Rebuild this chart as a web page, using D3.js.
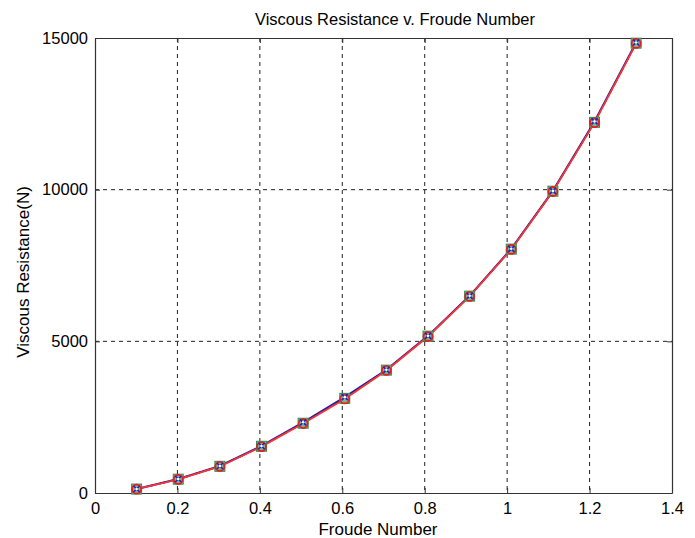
<!DOCTYPE html>
<html>
<head>
<meta charset="utf-8">
<script src="https://cdn.jsdelivr.net/npm/d3@7"></script>
<style>
  html, body { margin: 0; padding: 0; background: #fff; }
  svg text { font-family: "Liberation Sans", Arial, sans-serif; fill: #000; }
</style>
</head>
<body>
<svg id="chart" width="695" height="538"></svg>
<script>
// Froude numbers at each towing speed
const froude = [0.101, 0.202, 0.303, 0.404, 0.505, 0.606, 0.707, 0.808, 0.909, 1.010, 1.111, 1.212, 1.313];
// Viscous resistance (N) from three estimates
const resistanceA = [130, 460, 890, 1550, 2330, 3160, 4060, 5180, 6500, 8050, 9960, 12250, 14850];
const resistanceB = [130, 455, 880, 1540, 2300, 3120, 4050, 5170, 6490, 8040, 9950, 12220, 14830];
const resistanceC = [125, 450, 875, 1530, 2290, 3100, 4040, 5160, 6480, 8030, 9940, 12210, 14820];
const xTicks = [0, 0.2, 0.4, 0.6, 0.8, 1, 1.2, 1.4];
const yTicks = [0, 5000, 10000, 15000];

const svg = d3.select("#chart");
const m = { left: 95, right: 672, top: 38, bottom: 493 };

const x = d3.scaleLinear().domain([0, 1.4]).range([m.left, m.right]);
const y = d3.scaleLinear().domain([0, 15000]).range([m.bottom, m.top]);

// grid
const grid = svg.append("g").attr("stroke", "#222").attr("stroke-width", 1)
  .attr("stroke-dasharray", "4,4").attr("fill", "none");
xTicks.slice(1, -1).forEach(t => {
  grid.append("line").attr("x1", x(t)).attr("x2", x(t)).attr("y1", m.top).attr("y2", m.bottom);
});
yTicks.slice(1, -1).forEach(t => {
  grid.append("line").attr("x1", m.left).attr("x2", m.right).attr("y1", y(t)).attr("y2", y(t));
});

// axes
const xAxis = svg.append("g").attr("transform", `translate(0,${m.bottom})`)
  .call(d3.axisBottom(x).tickValues(xTicks).tickFormat(d3.format("~g")).tickSizeInner(-5).tickSizeOuter(0).tickPadding(9));
const yAxis = svg.append("g").attr("transform", `translate(${m.left},0)`)
  .call(d3.axisLeft(y).tickValues(yTicks).tickFormat(d3.format("d")).tickSizeInner(-5).tickSizeOuter(0).tickPadding(7));
const xTop = svg.append("g").attr("transform", `translate(0,${m.top})`)
  .call(d3.axisTop(x).tickValues(xTicks).tickFormat("").tickSizeInner(-5).tickSizeOuter(0));
const yRight = svg.append("g").attr("transform", `translate(${m.right},0)`)
  .call(d3.axisRight(y).tickValues(yTicks).tickFormat("").tickSizeInner(-5).tickSizeOuter(0));
[xAxis, yAxis, xTop, yRight].forEach(g => {
  g.select(".domain").attr("stroke", "#333").attr("stroke-width", 1.2);
  g.selectAll(".tick line").attr("stroke", "#333");
  g.selectAll("text").style("font-size", "16.5px").attr("fill", "#000");
});

// curves
const line = vals => d3.line().x((d, i) => x(froude[i])).y(d => y(d)).curve(d3.curveLinear)(vals);
svg.append("path").attr("d", line(resistanceA)).attr("fill", "none").attr("stroke", "#1f1fb8").attr("stroke-width", 2);
svg.append("path").attr("d", line(resistanceB)).attr("fill", "none").attr("stroke", "#222").attr("stroke-width", 1.6).attr("stroke-dasharray", "6,6");
svg.append("path").attr("d", line(resistanceC)).attr("fill", "none").attr("stroke", "#ff3333").attr("stroke-width", 1.8);

// markers
const pts = svg.append("g");
froude.forEach((f, i) => {
  const cx = x(f), cyB = y(resistanceB[i]), cyC = y(resistanceC[i]), cyA = y(resistanceA[i]);
  pts.append("rect").attr("x", cx - 5).attr("y", cyB - 5).attr("width", 10).attr("height", 10)
    .attr("fill", "#7fb38a").attr("stroke", "#3a8a50").attr("stroke-width", 1);
  pts.append("circle").attr("cx", cx).attr("cy", cyC).attr("r", 4.5)
    .attr("fill", "none").attr("stroke", "#e02020").attr("stroke-width", 1.8);
  pts.append("path").attr("d", `M${cx - 3},${cyA - 3}L${cx + 3},${cyA + 3}M${cx - 3},${cyA + 3}L${cx + 3},${cyA - 3}`)
    .attr("stroke", "#2020c0").attr("stroke-width", 1.6);
  pts.append("circle").attr("cx", cx).attr("cy", cyA).attr("r", 1.3).attr("fill", "#ffffff");
});

// labels
svg.append("text").attr("x", 395).attr("y", 25).attr("text-anchor", "middle")
  .style("font-size", "16.5px").text("Viscous Resistance v. Froude Number");
svg.append("text").attr("x", 378).attr("y", 535).attr("text-anchor", "middle")
  .style("font-size", "17px").text("Froude Number");
svg.append("text").attr("transform", "translate(29,272) rotate(-90)").attr("text-anchor", "middle")
  .style("font-size", "17px").text("Viscous Resistance(N)");
</script>
</body>
</html>
